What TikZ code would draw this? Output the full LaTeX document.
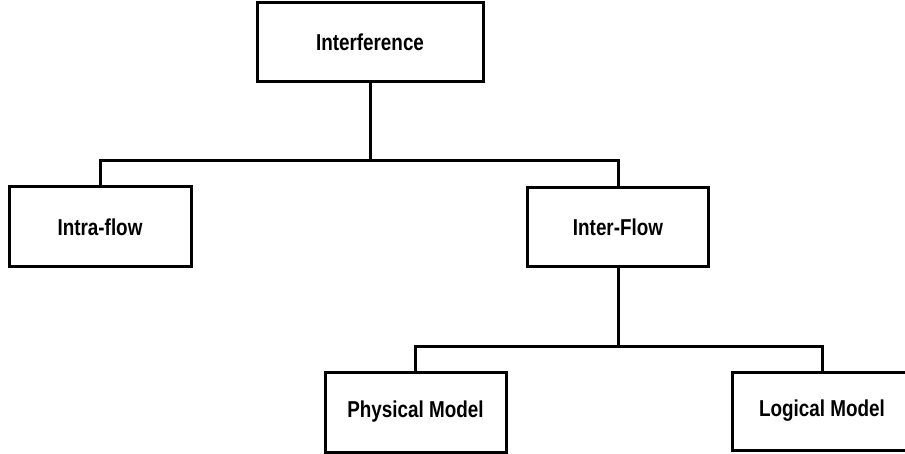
\documentclass[tikz,border=0pt]{standalone}
\usepackage{fontspec}
\setmainfont{Liberation Sans}
\usepackage{graphicx}
\newcommand{\narrowtext}[1]{\scalebox{0.82}[1]{#1}}
\begin{document}
\begin{tikzpicture}[x=1pt,y=-1pt,
  box/.style={draw=black, line width=3pt, fill=white, inner sep=0pt,
              font=\fontsize{23}{27}\selectfont\bfseries},
  link/.style={draw=black, line width=3pt, line cap=butt, line join=miter}]
  \useasboundingbox (0,0) rectangle (905,454);

  % boxes: centre x, centre y, width, height
  \node[box, minimum width=226pt, minimum height=79pt] (root) at (370,42.5) {\narrowtext{Interference}};
  \node[box, minimum width=182pt, minimum height=80pt] (intra) at (100,227) {\narrowtext{Intra-flow}};
  \node[box, minimum width=181pt, minimum height=79pt] (inter) at (618,227.5) {\narrowtext{Inter-Flow}};
  \node[box, minimum width=181pt, minimum height=80pt] (phys) at (415.5,412) {\narrowtext{Physical Model}};
  \node[box, minimum width=180pt, minimum height=78pt] (logic) at (822,411) {\narrowtext{Logical Model}};

  % tree connectors
  \coordinate (busA) at (370,161);
  \coordinate (busB) at (618,346);
  \draw[link] (root.south) -- (root.south |- busA);
  \draw[link] (intra.north) -- (intra.north |- busA) -- (inter.north |- busA) -- (inter.north);
  \draw[link] (inter.south) -- (inter.south |- busB);
  \draw[link] (phys.north) -- (phys.north |- busB) -- (logic.north |- busB) -- (logic.north);
\end{tikzpicture}
\end{document}
